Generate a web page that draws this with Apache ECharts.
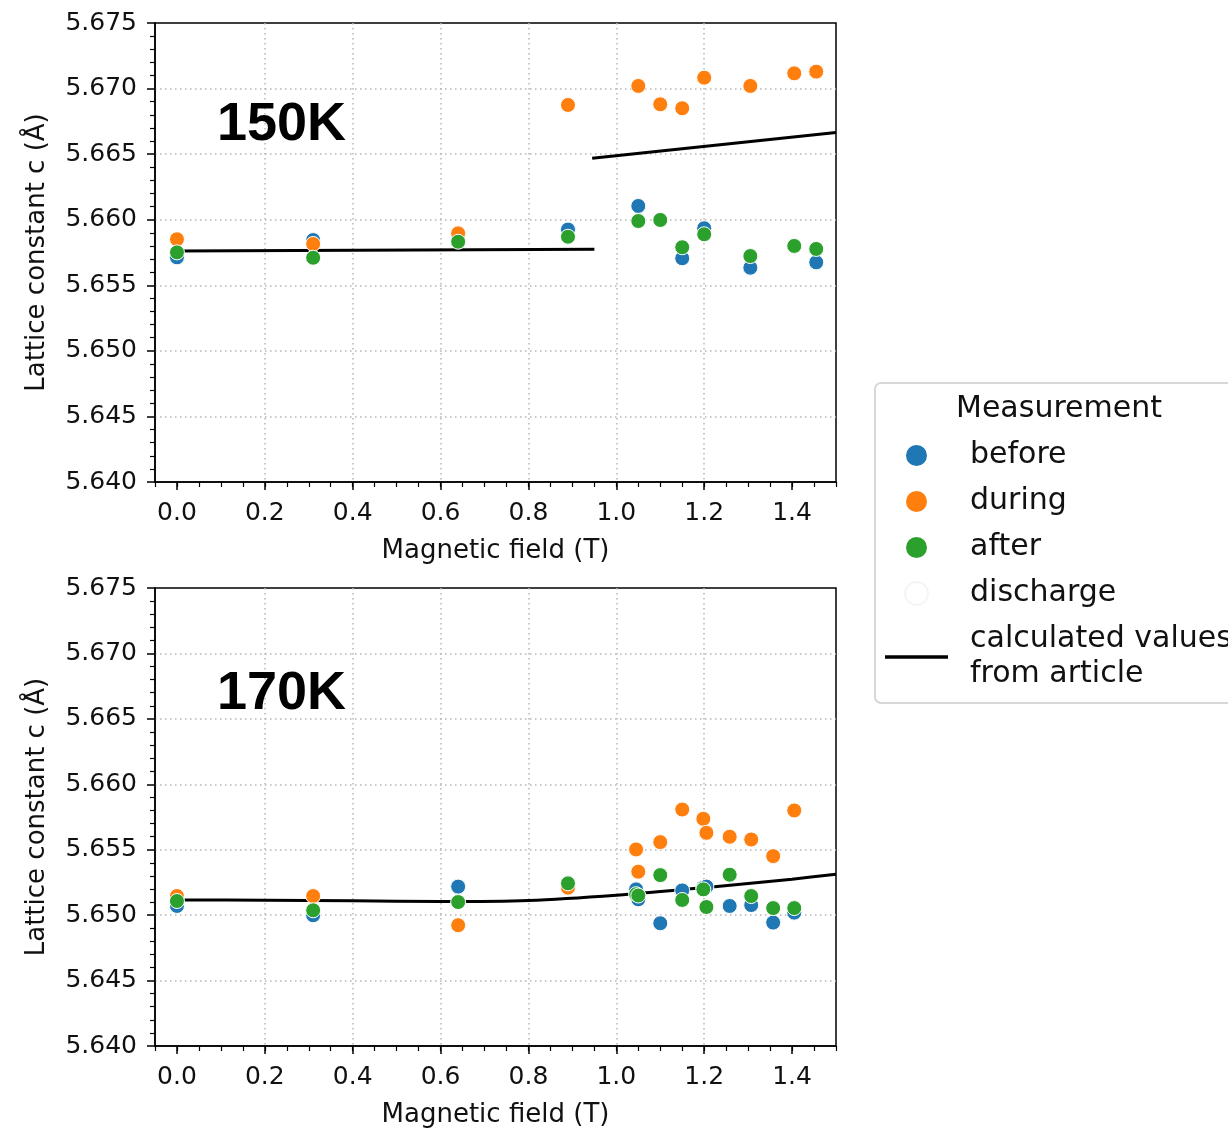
<!DOCTYPE html>
<html>
<head>
<meta charset="utf-8">
<script src="https://cdn.jsdelivr.net/npm/echarts@6/dist/echarts.min.js"></script>
<style>
  html, body { margin: 0; padding: 0; background: #fff; }
  #chart { width: 1228px; height: 1129px; }
</style>
</head>
<body>
<div id="chart"></div>
<script>
// Magnetic field (T) at each measurement, 150 K run
const fields150 = [0, 0.31, 0.64, 0.89, 1.05, 1.10, 1.15, 1.20, 1.305, 1.405, 1.455];
const before150 = [5.65713, 5.65845, 5.65850, 5.65925, 5.66105, 5.66000, 5.65706, 5.65935, 5.65634, 5.65800, 5.65675];
const during150 = [5.65851, 5.65815, 5.65896, 5.66875, 5.67020, 5.66880, 5.66850, 5.67083, 5.67020, 5.67116, 5.67129];
const after150  = [5.65751, 5.65710, 5.65832, 5.65870, 5.65990, 5.65998, 5.65790, 5.65889, 5.65723, 5.65800, 5.65777];
const discharge150 = [];

// Calculated lattice constant (two branches), 150 K
const calcFieldsLow150 = [0, 0.95];
const calcLow150 = [5.65762, 5.65775];
const calcFieldsHigh150 = [0.945, 1.5];
const calcHigh150 = [5.66468, 5.66665];

// Magnetic field (T) at each measurement, 170 K run
const fields170 = [0, 0.31, 0.64, 0.89, 1.045, 1.05, 1.10, 1.15, 1.198, 1.205, 1.258, 1.307, 1.357, 1.405];
const before170 = [5.65070, 5.64999, 5.65218, 5.65220, 5.65197, 5.65121, 5.64938, 5.65189, 5.65210, 5.65218, 5.65070, 5.65077, 5.64943, 5.65019];
const during170 = [5.65146, 5.65146, 5.64923, 5.65210, 5.65502, 5.65332, 5.65558, 5.65807, 5.65736, 5.65629, 5.65599, 5.65578, 5.65451, 5.65800];
const after170  = [5.65108, 5.65037, 5.65100, 5.65243, 5.65160, 5.65150, 5.65306, 5.65116, 5.65197, 5.65062, 5.65309, 5.65146, 5.65054, 5.65054];

// Calculated lattice constant, 170 K
const calcFields170 = [0, 0.2, 0.4, 0.6, 0.8, 1.0, 1.2, 1.4, 1.5];
const calc170 = [5.65116, 5.65114, 5.65110, 5.65104, 5.65112, 5.65152, 5.65210, 5.65275, 5.65312];

// Axis ticks
const xTicks = [0, 0.2, 0.4, 0.6, 0.8, 1.0, 1.2, 1.4];
const yMin = 5.640, yMax = 5.675, yStep = 0.005;
const panelTitles = ['150K', '170K'];
const legendTitle = 'Measurement';
const calcName = 'calculated values\nfrom article';

const colors = { before: '#1f77b4', during: '#ff7f0e', after: '#2ca02c' };
const FONT = 'DejaVu Sans';
const INK = '#111';
const GRID_LINE = { color: '#b5b5b5', type: [1.5, 3.5], width: 1.5 };

const zip = (xs, ys) => xs.map((x, i) => [x, ys[i]]);

const grids = [
  { left: 155, top: 23, width: 681, height: 459 },
  { left: 155, top: 588, width: 681, height: 459 }
];

function mainX(g) {
  return {
    type: 'value', gridIndex: g, min: -0.05, max: 1.5, position: 'bottom',
    axisLine: { show: true, onZero: false, lineStyle: { color: '#000', width: 1.5 } },
    axisTick: { show: true, length: 8, customValues: xTicks, lineStyle: { color: '#000', width: 1.5 } },
    axisLabel: { customValues: xTicks, formatter: v => v.toFixed(1), fontSize: 25, fontFamily: FONT, color: INK, margin: 19 },
    splitLine: { show: true, showMinLine: false, showMaxLine: false, lineStyle: GRID_LINE },
    name: 'Magnetic field (T)', nameLocation: 'middle', nameGap: 56,
    nameTextStyle: { fontSize: 26, fontFamily: FONT, color: INK }
  };
}
function minorX(g) {
  return {
    type: 'value', gridIndex: g, min: -0.05, max: 1.5, interval: 0.05, position: 'bottom',
    axisLine: { show: false }, axisLabel: { show: false }, splitLine: { show: false },
    axisTick: { show: true, length: 5, lineStyle: { color: '#000', width: 1.2 } }
  };
}
function yAx(g) {
  return {
    type: 'value', gridIndex: g, min: yMin, max: yMax, interval: yStep,
    axisLine: { show: true, onZero: false, lineStyle: { color: '#000', width: 1.5 } },
    axisTick: { show: true, length: 8, lineStyle: { color: '#000', width: 1.5 } },
    minorTick: { show: true, splitNumber: 5, length: 5, lineStyle: { color: '#000', width: 1.2 } },
    axisLabel: { formatter: v => v.toFixed(3), fontSize: 25, fontFamily: FONT, color: INK, margin: 18 },
    splitLine: { show: true, showMinLine: false, showMaxLine: false, lineStyle: GRID_LINE },
    name: 'Lattice constant c (Å)', nameLocation: 'middle', nameGap: 105, nameRotate: 90,
    nameTextStyle: { fontSize: 26, fontFamily: FONT, color: INK }
  };
}

function scatter(name, xs, ys, xi, yi) {
  return {
    type: 'scatter', name, xAxisIndex: xi, yAxisIndex: yi, data: zip(xs, ys),
    symbol: 'circle', symbolSize: 15, z: 3,
    itemStyle: { color: colors[name], borderColor: '#ffffff', borderWidth: 1, opacity: 1 }
  };
}
function calcLine(xs, ys, xi, yi, smooth) {
  return {
    type: 'line', name: calcName, xAxisIndex: xi, yAxisIndex: yi, data: zip(xs, ys),
    symbol: 'none', showSymbol: false, smooth: smooth, clip: true, z: 2,
    lineStyle: { color: '#000', width: 3 }, itemStyle: { color: '#000' }
  };
}

const series = [
  calcLine(calcFieldsLow150, calcLow150, 0, 0, false),
  calcLine(calcFieldsHigh150, calcHigh150, 0, 0, false),
  scatter('before', fields150, before150, 0, 0),
  scatter('during', fields150, during150, 0, 0),
  scatter('after', fields150, after150, 0, 0),
  {
    type: 'scatter', name: 'discharge', xAxisIndex: 0, yAxisIndex: 0, data: discharge150,
    symbol: 'circle', symbolSize: 15,
    itemStyle: { color: '#ffffff', borderColor: '#f2f2f2', borderWidth: 1 }
  },
  calcLine(calcFields170, calc170, 2, 1, 0.3),
  scatter('before', fields170, before170, 2, 1),
  scatter('during', fields170, during170, 2, 1),
  scatter('after', fields170, after170, 2, 1)
];

const chart = echarts.init(document.getElementById('chart'), null, { renderer: 'canvas' });
chart.setOption({
  animation: false,
  backgroundColor: '#ffffff',
  grid: grids.map(g => Object.assign({ show: true, borderColor: '#000', borderWidth: 1.5, backgroundColor: 'transparent' }, g)),
  xAxis: [mainX(0), minorX(0), mainX(1), minorX(1)],
  yAxis: [yAx(0), yAx(1)],
  legend: {
    orient: 'vertical', left: 885, top: 438, padding: 0,
    itemWidth: 63, itemHeight: 23, itemGap: 11,
    selectedMode: false,
    textStyle: { fontSize: 30, fontFamily: FONT, color: INK, lineHeight: 35, padding: [0, 0, 0, 17] },
    data: [
      { name: 'before', icon: 'circle' },
      { name: 'during', icon: 'circle' },
      { name: 'after', icon: 'circle' },
      { name: 'discharge', icon: 'circle' },
      { name: calcName, icon: 'path://M0,0 L63,0 L63,3.5 L0,3.5 Z', itemStyle: { color: '#000', borderWidth: 0 } }
    ]
  },
  graphic: [
    {
      type: 'rect', left: 874, top: 382, z: 1,
      shape: { width: 420, height: 320, r: 6 },
      style: { fill: '#ffffff', stroke: '#d8d8d8', lineWidth: 2 }
    },
    {
      type: 'text', x: 1059, y: 409, z: 5,
      style: { text: legendTitle, font: '30px "DejaVu Sans"', fill: INK, textAlign: 'center', textVerticalAlign: 'middle' }
    },
    {
      type: 'text', x: 217, y: 125, z: 5,
      style: { text: panelTitles[0], font: 'bold 54px "Liberation Sans"', fill: '#000', textAlign: 'left', textVerticalAlign: 'middle' }
    },
    {
      type: 'text', x: 217, y: 694, z: 5,
      style: { text: panelTitles[1], font: 'bold 54px "Liberation Sans"', fill: '#000', textAlign: 'left', textVerticalAlign: 'middle' }
    }
  ],
  series
});
</script>
</body>
</html>
